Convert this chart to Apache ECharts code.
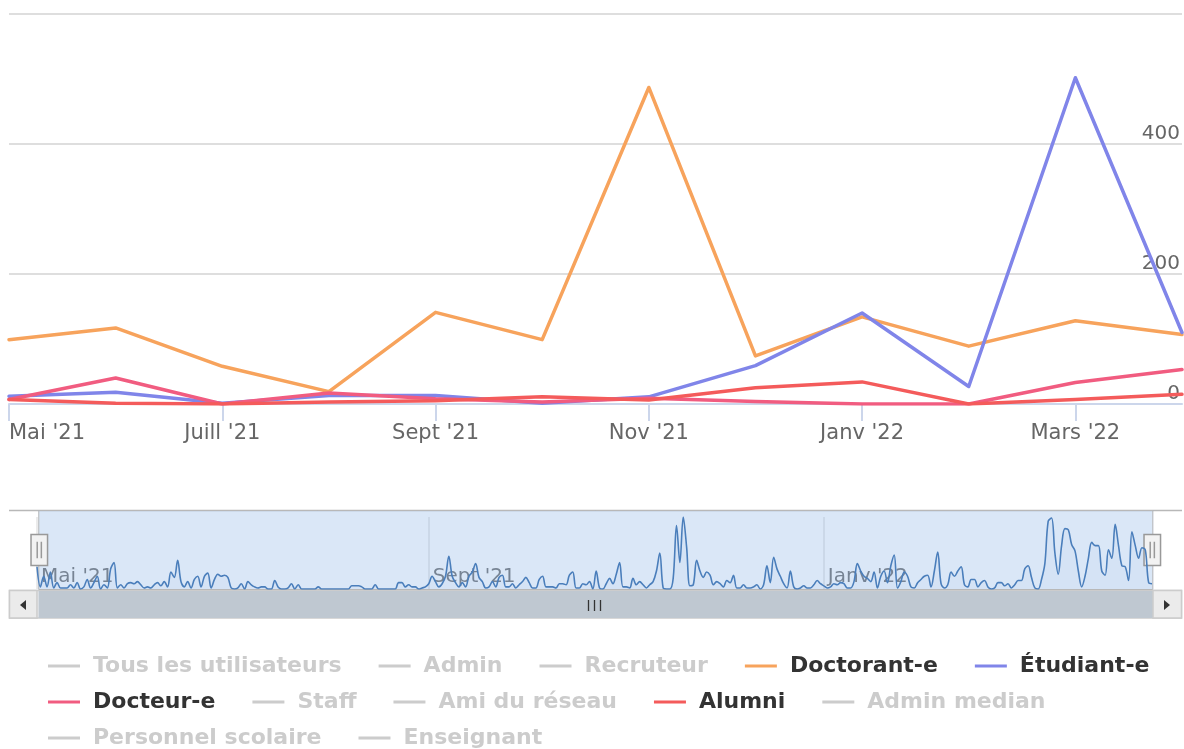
<!DOCTYPE html>
<html>
<head>
<meta charset="utf-8">
<script src="https://cdn.jsdelivr.net/npm/echarts@6/dist/echarts.min.js"></script>
<style>html,body{margin:0;padding:0;background:#fff}#c{width:1184px;height:749px}</style>
</head>
<body>
<div id="c"></div>
<script>
// ---- data ----
const months = ["Mai '21","Juin '21","Juill '21","Août '21","Sept '21","Oct '21","Nov '21","Déc '21","Janv '22","Févr '22","Mars '22","Avr '22"];
const seriesNames = ["Tous les utilisateurs","Admin","Recruteur","Doctorant-e","Étudiant-e","Docteur-e","Staff","Ami du réseau","Alumni","Admin median","Personnel scolaire","Enseignant"];
const hiddenNames = ["Tous les utilisateurs","Admin","Recruteur","Staff","Ami du réseau","Admin median","Personnel scolaire","Enseignant"];
const doctorant = [99,117,58,19,141,99,487,74,134,89,128,107];
const etudiant  = [12,18,1,13,13,1,11,59,140,27,502,110];
const docteur   = [7,40,0,17,8,3,9,4,0,0,33,53];
const alumni    = [7,1,0,3,5,11,6,25,34,0,7,15];
// navigator (all users, daily, relative)
const navValues = [
 21,2,12,2,16,1,6,1,1,1,4,1,6,0,2,9,1,6,12,0,4,1,19,25,1,4,1,5,6,5,7,4,1,2,1,4,6,3,7,2,16,11,27,7,2,7,1,9,12,
 2,12,15,1,9,14,12,13,11,1,0,1,5,0,7,4,2,1,2,2,0,0,8,2,0,0,1,5,0,4,0,0,0,0,0,2,0,0,0,0,0,0,0,0,0,3,3,3,2,0,0,0,4,0,0,0,0,0,
 0,6,6,2,4,2,2,0,1,2,5,12,7,2,5,12,31,12,6,2,6,2,12,16,24,11,7,1,2,7,2,11,13,2,2,5,1,4,7,11,6,1,1,9,12,2,2,2,1,5,5,4,13,16,1,1,5,4,7,
 0,17,1,0,5,10,5,14,25,2,2,1,10,4,7,4,1,4,7,17,34,1,0,0,10,60,25,68,40,3,4,27,17,11,16,13,4,7,5,2,8,6,13,1,1,4,1,1,2,4,0,4,22,6,30,19,12,5,
 1,17,2,0,1,3,1,1,4,8,5,3,1,2,5,4,6,5,1,1,7,24,17,12,10,7,16,1,12,17,6,22,32,1,7,16,12,2,1,6,9,12,13,2,17,35,5,1,4,16,12,17,21,4,2,9,9,2,6,
 8,2,0,1,6,6,3,5,1,4,8,8,19,22,11,1,0,9,24,64,67,34,14,41,57,56,42,36,17,2,12,29,44,41,41,17,13,37,29,61,41,22,21,8,54,41,29,39,37,6,5
];
const navTickIdx = [0,117,235];
const navTickLabels = ["Mai '21","Sept '21","Janv '22"];
const yTicks = {min:0, max:600, interval:200};

// ---- chart ----
const palette = ['#7cb5ec','#434348','#90ed7d','#f7a35c','#8085e9','#f15c80','#e4d354','#2b908f','#f45b5b','#91e8e1','#7cb5ec','#434348'];
const dataByName = {"Doctorant-e":doctorant,"Étudiant-e":etudiant,"Docteur-e":docteur,"Alumni":alumni};
const selected = {};
seriesNames.forEach(n => selected[n] = hiddenNames.indexOf(n) < 0);
const navInterval = (i) => navTickIdx.indexOf(i) >= 0;

const series = seriesNames.map((n, i) => ({
  name: n, type: 'line', xAxisIndex: 0, yAxisIndex: 0,
  data: dataByName[n] || [],
  color: palette[i], symbol: 'none', showSymbol: false,
  lineStyle: {width: 3.5, color: palette[i], join: 'round', cap: 'round'},
  emphasis: {disabled: true}
}));
series.push({
  name: 'navigator', type: 'line', xAxisIndex: 1, yAxisIndex: 1,
  data: navValues, smooth: 0.35, symbol: 'none', showSymbol: false,
  color: '#4a7ebb', lineStyle: {width: 1.6, color: '#4a7ebb'},
  areaStyle: {color: 'rgba(74,126,187,0.05)'}, z: 5, silent: true
});

const option = {
  animation: false,
  textStyle: {fontFamily: 'DejaVu Sans'},
  grid: [
    {left: 9, right: 2, top: 14, height: 390},
    {left: 37, right: 32, top: 517, height: 72}
  ],
  xAxis: [
    {type: 'category', gridIndex: 0, data: months, boundaryGap: false,
     axisLine: {lineStyle: {color: '#ccd6eb', width: 2}},
     axisTick: {interval: 1, length: 17, lineStyle: {color: '#ccd6eb', width: 2}},
     axisLabel: {interval: 1, color: '#666', fontSize: 21, margin: 19, alignMinLabel: 'left', fontFamily: 'DejaVu Sans'},
     splitLine: {show: false}},
    {type: 'category', gridIndex: 1, data: navValues.map((v, i) => i), boundaryGap: false,
     axisLine: {show: false}, axisTick: {show: false},
     axisLabel: {inside: true, interval: navInterval,
       formatter: (v, i) => navTickLabels[navTickIdx.indexOf(i)] || '',
       align: 'left', verticalAlign: 'bottom', margin: 2, padding: [0, 0, 0, 4],
       color: '#7a7a7a', fontSize: 20, fontFamily: 'DejaVu Sans'},
     splitLine: {show: true, interval: navInterval, lineStyle: {color: '#e4e4e4', width: 1.5}}}
  ],
  yAxis: [
    {type: 'value', gridIndex: 0, position: 'right', min: yTicks.min, max: yTicks.max, interval: yTicks.interval,
     axisLine: {show: false}, axisTick: {show: false},
     axisLabel: {inside: true, margin: 2, verticalAlign: 'bottom', color: '#666', fontSize: 20, showMaxLabel: false, fontFamily: 'DejaVu Sans'},
     splitLine: {lineStyle: {color: '#dedede', width: 2}}},
    {type: 'value', gridIndex: 1, min: 0, max: 'dataMax', show: false}
  ],
  legend: {
    left: 48, top: 655, width: 1140, orient: 'horizontal', padding: 0,
    itemWidth: 32, itemHeight: 3, itemGap: 14, icon: 'rect',
    inactiveColor: '#cccccc', inactiveBorderColor: '#cccccc',
    selected: selected, data: seriesNames,
    textStyle: {fontFamily: 'DejaVu Sans', fontSize: 22, fontWeight: 'bold', color: '#333', lineHeight: 22, padding: [0, 23, 0, 8]}
  },
  dataZoom: [
    {type: 'slider', xAxisIndex: 0, left: 37, right: 32, top: 510, height: 80, start: 0, end: 100,
     showDataShadow: false, showDetail: false, brushSelect: false, moveHandleSize: 0, filterMode: 'none',
     backgroundColor: 'rgba(0,0,0,0)', fillerColor: 'rgba(111,163,226,0.26)', borderColor: '#b8b8b8', borderRadius: 0,
     handleIcon: 'path://M0,0L16,0L16,30L0,30Z M6,7L6,23 M10,7L10,23', handleSize: 31,
     handleStyle: {color: '#f2f2f2', borderColor: '#999', borderWidth: 1.5},
     moveHandleStyle: {opacity: 0},
     emphasis: {handleStyle: {color: '#f2f2f2', borderColor: '#999', borderWidth: 1.5}, moveHandleStyle: {opacity: 0}}},
    {type: 'slider', xAxisIndex: 0, left: 37, right: 32, top: 591, height: 27, start: 0, end: 100,
     showDataShadow: false, showDetail: false, brushSelect: false, moveHandleSize: 0, filterMode: 'none',
     backgroundColor: 'rgba(0,0,0,0)', fillerColor: '#bfc8d1', borderColor: 'rgba(0,0,0,0)', borderRadius: 0,
     handleIcon: 'path://M0,0L1,0L1,1L0,1Z', handleStyle: {opacity: 0},
     moveHandleStyle: {opacity: 0},
     emphasis: {handleStyle: {opacity: 0}, moveHandleStyle: {opacity: 0}}}
  ],
  graphic: [
    {type: 'line', shape: {x1: 9, y1: 510.5, x2: 1182, y2: 510.5}, style: {stroke: '#b8b8b8', lineWidth: 1.5}, z: 1, silent: true},
    {type: 'rect', shape: {x: 9.5, y: 590.5, width: 1172, height: 27.5}, style: {fill: '#f2f2f2', stroke: '#cccccc', lineWidth: 1.5}, z: 1, silent: true},
    {type: 'rect', shape: {x: 9.5, y: 590.5, width: 27.5, height: 27.5}, style: {fill: '#ebebeb', stroke: '#cccccc', lineWidth: 1.5}, z: 10, silent: true},
    {type: 'polygon', shape: {points: [[20, 605], [26, 600], [26, 610]]}, style: {fill: '#333'}, z: 11, silent: true},
    {type: 'rect', shape: {x: 1153, y: 590.5, width: 28.5, height: 27.5}, style: {fill: '#ebebeb', stroke: '#cccccc', lineWidth: 1.5}, z: 10, silent: true},
    {type: 'polygon', shape: {points: [[1170, 605], [1164, 600], [1164, 610]]}, style: {fill: '#333'}, z: 11, silent: true},
    {type: 'line', shape: {x1: 588.5, y1: 600, x2: 588.5, y2: 611}, style: {stroke: '#333', lineWidth: 1.3}, z: 11, silent: true},
    {type: 'line', shape: {x1: 594.5, y1: 600, x2: 594.5, y2: 611}, style: {stroke: '#333', lineWidth: 1.3}, z: 11, silent: true},
    {type: 'line', shape: {x1: 600.5, y1: 600, x2: 600.5, y2: 611}, style: {stroke: '#333', lineWidth: 1.3}, z: 11, silent: true}
  ],
  series: series
};
const chart = echarts.init(document.getElementById('c'), null, {renderer: 'canvas'});
chart.setOption(option);
</script>
</body>
</html>
